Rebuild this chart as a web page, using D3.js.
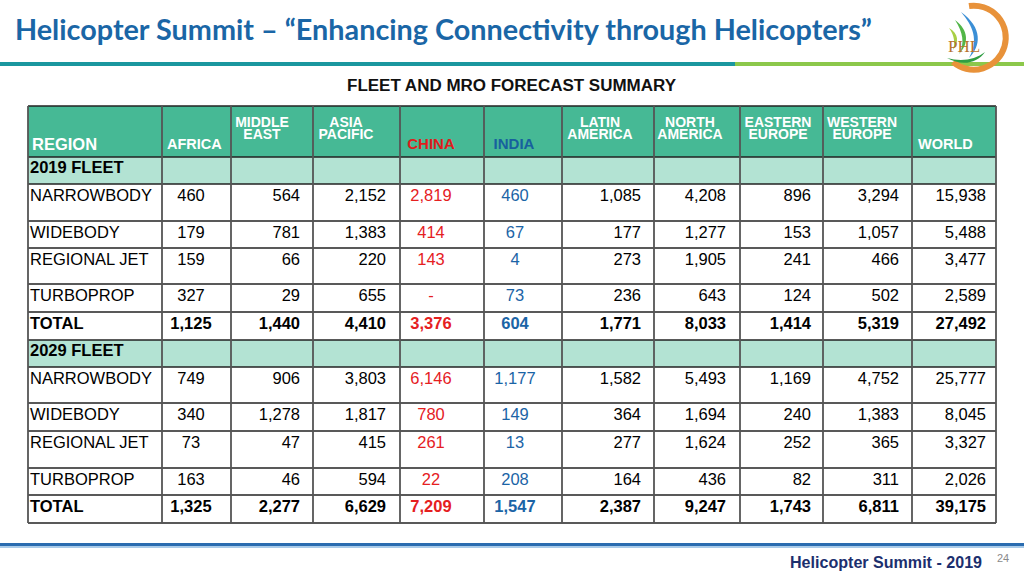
<!DOCTYPE html>
<html><head><meta charset="utf-8">
<script src="https://cdn.jsdelivr.net/npm/d3@7"></script>
<style>html,body{margin:0;padding:0;background:#fff;}svg{display:block;}</style>
</head><body>
<svg id="c" width="1024" height="576"></svg>
<script>
// ---------- data ----------
const columns = ["AFRICA","MIDDLE EAST","ASIA PACIFIC","CHINA","INDIA","LATIN AMERICA","NORTH AMERICA","EASTERN EUROPE","WESTERN EUROPE","WORLD"];
const rowLabels = ["NARROWBODY","WIDEBODY","REGIONAL JET","TURBOPROP","TOTAL"];
const fleet2019Narrowbody = [460,564,2152,2819,460,1085,4208,896,3294,15938];
const fleet2019Widebody   = [179,781,1383,414,67,177,1277,153,1057,5488];
const fleet2019Regional   = [159,66,220,143,4,273,1905,241,466,3477];
const fleet2019Turboprop  = [327,29,655,null,73,236,643,124,502,2589];
const fleet2019Total      = [1125,1440,4410,3376,604,1771,8033,1414,5319,27492];
const fleet2029Narrowbody = [749,906,3803,6146,1177,1582,5493,1169,4752,25777];
const fleet2029Widebody   = [340,1278,1817,780,149,364,1694,240,1383,8045];
const fleet2029Regional   = [73,47,415,261,13,277,1624,252,365,3327];
const fleet2029Turboprop  = [163,46,594,22,208,164,436,82,311,2026];
const fleet2029Total      = [1325,2277,6629,7209,1547,2387,9247,1743,6811,39175];
const sections = [
  {title:"2019 FLEET", rows:[fleet2019Narrowbody,fleet2019Widebody,fleet2019Regional,fleet2019Turboprop,fleet2019Total]},
  {title:"2029 FLEET", rows:[fleet2029Narrowbody,fleet2029Widebody,fleet2029Regional,fleet2029Turboprop,fleet2029Total]}
];

// ---------- layout ----------
const svg = d3.select("#c");
const colKeys = ["REGION"].concat(columns);
const colEdges = [28,162,231,313,400,484,562,654,740,823,912,996];
// value anchor per column
const anchorX = d3.scaleOrdinal().domain(columns).range([191,300,386,431,515,641,726,811,899,986]);
const anchorType = d3.scaleOrdinal().domain(columns).range(["middle","end","end","middle","middle","end","end","end","end","end"]);
const headerX = d3.scaleOrdinal().domain(columns).range([167,262,346,431,514,600,690,778,862,918]);
const headerAnchor = d3.scaleOrdinal().domain(columns).range(["start","middle","middle","middle","middle","middle","middle","middle","middle","start"]);
const colColor = d3.scaleOrdinal().domain(columns).range(["#000","#000","#000","#e5201f","#1b64a6","#000","#000","#000","#000","#000"]);
const headColor = d3.scaleOrdinal().domain(columns).range(["#fff","#fff","#fff","#e01c1c","#17609e","#fff","#fff","#fff","#fff","#fff"]);

// row edges: header, section title, 5 rows, section title, 5 rows
const rowEdges = [106,157,184,221,248,284,312,340,367,403,431,468,495,523];
const rowKeys = ["header","s0","s0r0","s0r1","s0r2","s0r3","s0r4","s1","s1r0","s1r1","s1r2","s1r3","s1r4"];
const yTop = d3.scaleOrdinal().domain(rowKeys).range(rowEdges.slice(0,-1));
const yBot = d3.scaleOrdinal().domain(rowKeys).range(rowEdges.slice(1));

const fmt = d3.format(",");
const FONT = "'Liberation Sans', Arial, Helvetica, sans-serif";

// ---------- title ----------
svg.append("text").attr("x",15).attr("y",40)
  .attr("font-family","Lato, 'Open Sans', sans-serif").attr("font-weight",700)
  .attr("font-size",28).attr("fill","#1a66a6")
  .attr("textLength",857).attr("lengthAdjust","spacingAndGlyphs")
  .text("Helicopter Summit \u2013 \u201CEnhancing Connectivity through Helicopters\u201D");
svg.append("rect").attr("x",0).attr("y",62).attr("width",735).attr("height",4).attr("fill","#1a979f");
svg.append("rect").attr("x",735).attr("y",62).attr("width",289).attr("height",4).attr("fill","#8cc84b");

// logo (approximation)
const logo = svg.append("g").attr("transform","translate(975,36)");
logo.append("path").attr("d","M-6,-30 A32,32 0 1 1 -22,26").attr("fill","none").attr("stroke","#e8923a").attr("stroke-width",6);
logo.append("path").attr("d","M-14,-24 C-2,-10 4,4 -6,22 C6,10 8,-8 -14,-24Z").attr("fill","#3b8fd6");
logo.append("path").attr("d","M-20,-16 C-12,-4 -10,8 -16,18 C-6,8 -6,-6 -20,-16Z").attr("fill","#52b648");
logo.append("path").attr("d","M-26,-8 C-20,0 -20,8 -22,14 C-16,6 -16,-2 -26,-8Z").attr("fill","#a9cf45");
logo.append("path").attr("d","M-28,22 C-14,30 2,28 10,16 C0,24 -14,26 -28,22Z").attr("fill","#2f9e44");
logo.append("text").attr("x",-27).attr("y",16).attr("font-family","'Liberation Serif', serif").attr("font-size",17).attr("fill","#b5732c").text("PHL");

// subtitle
svg.append("text").attr("x",347).attr("y",91)
  .attr("font-family",FONT).attr("font-weight",700).attr("font-size",16).attr("fill","#111")
  .attr("textLength",329).attr("lengthAdjust","spacingAndGlyphs")
  .text("FLEET AND MRO FORECAST SUMMARY");

// ---------- table ----------
const table = svg.append("g");
// backgrounds
table.append("rect").attr("x",colEdges[0]).attr("y",yTop("header"))
  .attr("width",colEdges[colEdges.length-1]-colEdges[0]).attr("height",yBot("header")-yTop("header")).attr("fill","#46b995");
["s0","s1"].forEach(k=>{
  table.append("rect").attr("x",colEdges[0]).attr("y",yTop(k))
    .attr("width",colEdges[colEdges.length-1]-colEdges[0]).attr("height",yBot(k)-yTop(k)).attr("fill","#b3e3d3");
});

// header labels
table.append("text").attr("x",32).attr("y",150).attr("font-family",FONT).attr("font-weight",700)
  .attr("font-size",16.5).attr("fill","#fff").text("REGION");
columns.forEach(c=>{
  const parts = c.split(" ");
  const big = (c==="CHINA"||c==="INDIA");
  if(parts.length===1){
    table.append("text").attr("font-family",FONT).attr("font-weight",700)
      .attr("font-size",big?15:14.5).attr("fill",headColor(c)).attr("text-anchor",headerAnchor(c))
      .attr("x",headerX(c)).attr("y",149).text(c);
  } else {
    parts.forEach((p,i)=>{
      table.append("text").attr("font-family",FONT).attr("font-weight",700)
        .attr("font-size",14).attr("fill",headColor(c)).attr("text-anchor",headerAnchor(c))
        .attr("x",headerX(c)).attr("y",127+i*12).text(p);
    });
  }
});

// body
sections.forEach((s,si)=>{
  const sk = "s"+si;
  table.append("text").attr("x",30).attr("y",yTop(sk)+16).attr("font-family",FONT).attr("font-weight",700)
    .attr("font-size",16.5).attr("fill","#000").text(s.title);
  s.rows.forEach((vals,ri)=>{
    const rk = sk+"r"+ri;
    const bold = rowLabels[ri]==="TOTAL";
    const yb = yTop(rk)+17;
    table.append("text").attr("x",30).attr("y",yb).attr("font-family",FONT)
      .attr("font-weight",bold?700:400).attr("font-size",16.5).attr("fill","#000").text(rowLabels[ri]);
    table.selectAll(null).data(vals.map((v,i)=>({v,c:columns[i]}))).enter().append("text")
      .attr("x",d=>anchorX(d.c)).attr("y",yb).attr("text-anchor",d=>anchorType(d.c))
      .attr("font-family",FONT).attr("font-weight",bold?700:400).attr("font-size",16.5)
      .attr("fill",d=>colColor(d.c)).text(d=>d.v==null?"-":fmt(d.v));
  });
});

// grid lines
table.selectAll(null).data(rowEdges).enter().append("line")
  .attr("x1",colEdges[0]).attr("x2",colEdges[colEdges.length-1]).attr("y1",d=>d).attr("y2",d=>d)
  .attr("stroke","#222").attr("stroke-width",1.5);
table.selectAll(null).data(colEdges).enter().append("line")
  .attr("x1",d=>d).attr("x2",d=>d).attr("y1",rowEdges[0]).attr("y2",rowEdges[rowEdges.length-1])
  .attr("stroke","#555").attr("stroke-width",1.8);

// ---------- footer ----------
svg.append("rect").attr("x",0).attr("y",543).attr("width",1024).attr("height",3).attr("fill","#2a6cb0");
svg.append("rect").attr("x",0).attr("y",546).attr("width",1024).attr("height",2).attr("fill","#a9cbe9");
svg.append("text").attr("x",790).attr("y",568).attr("font-family",FONT).attr("font-weight",700)
  .attr("font-size",16).attr("fill","#1c2f6e").attr("textLength",192).attr("lengthAdjust","spacingAndGlyphs")
  .text("Helicopter Summit - 2019");
svg.append("text").attr("x",997).attr("y",562).attr("font-family",FONT)
  .attr("font-size",11).attr("fill","#8a8a8a").text("24");
</script>
</body></html>
